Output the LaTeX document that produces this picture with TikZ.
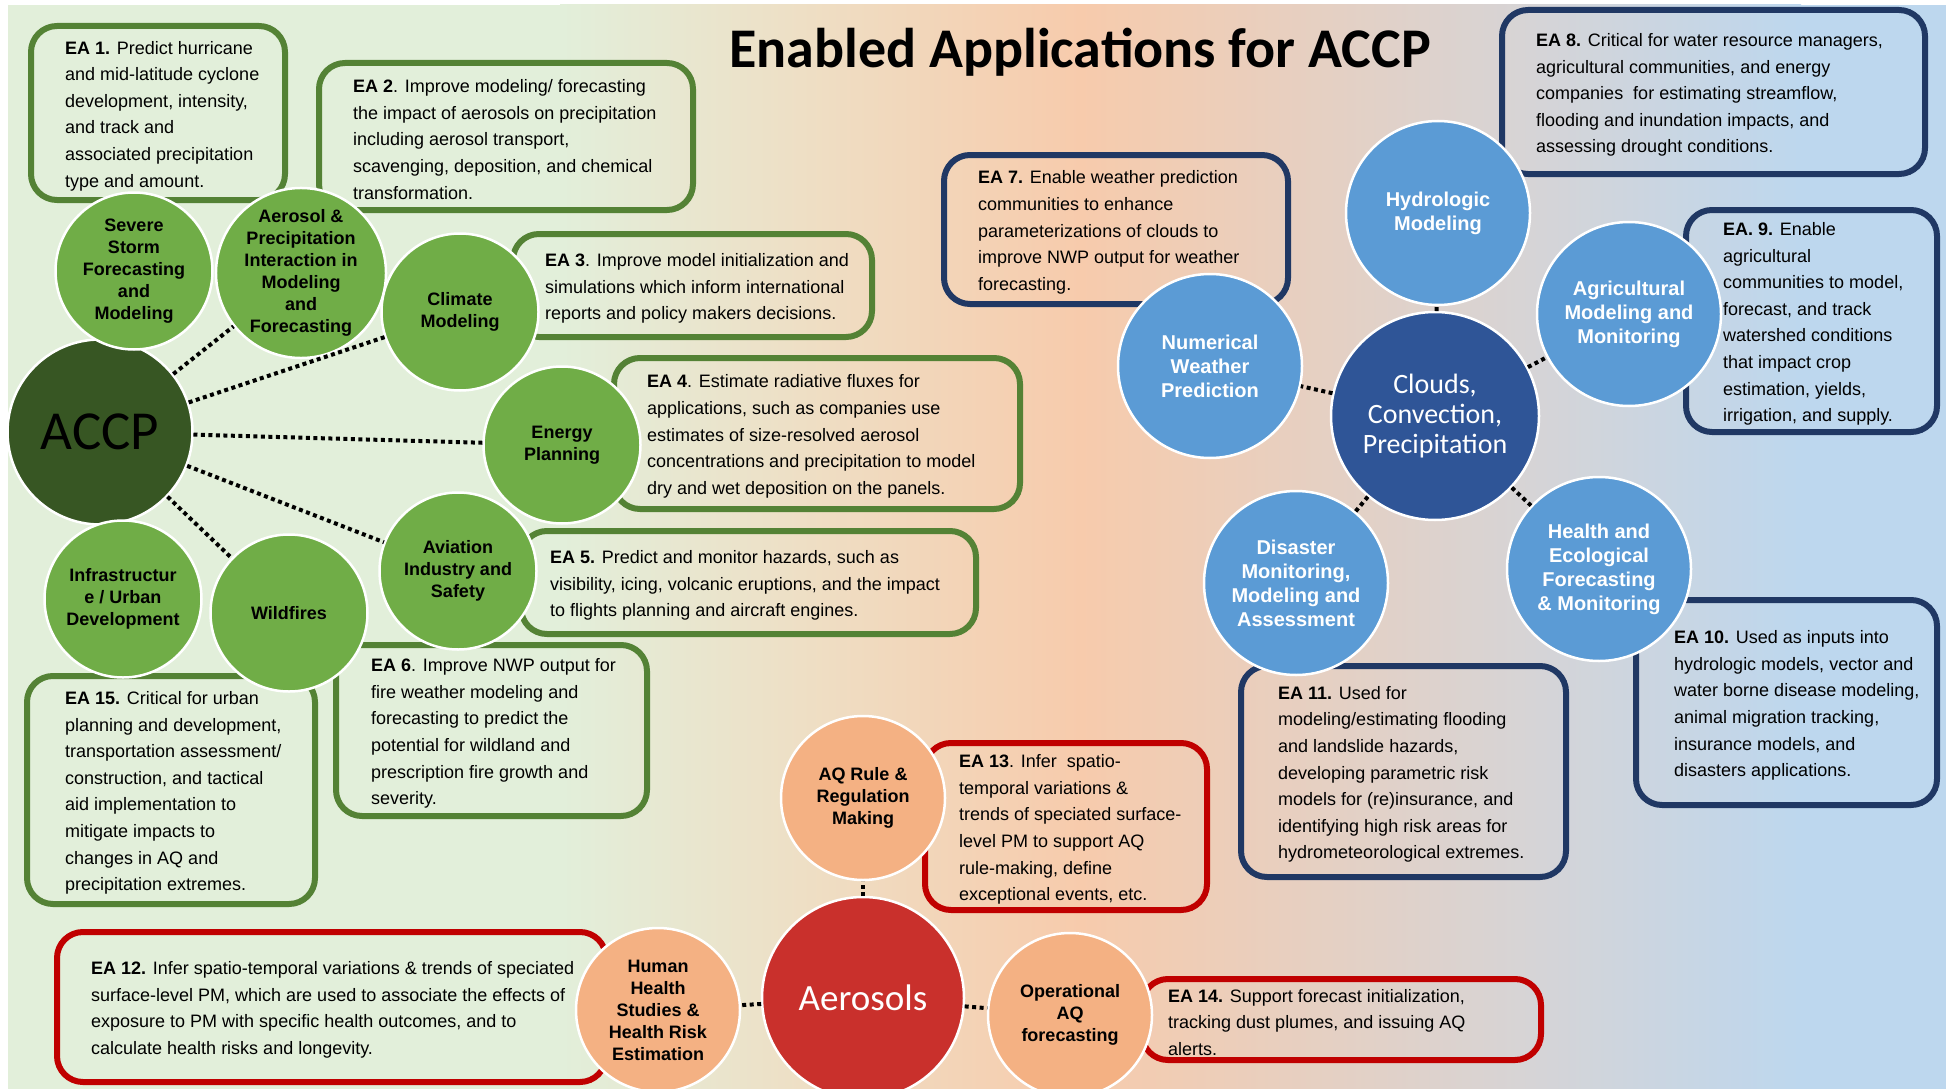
\documentclass[tikz,border=0pt]{standalone}
\usepackage{fontspec}
\setmainfont{Liberation Sans}
\newfontfamily\calibri{Carlito}
\definecolor{bgA}{HTML}{E2EFDA}
\definecolor{bgB}{HTML}{E4ECD7}
\definecolor{bgC}{HTML}{EEDFC5}
\definecolor{bgD}{HTML}{F7CBAC}
\definecolor{bgE}{HTML}{D6D4D6}
\definecolor{bgF}{HTML}{BDD7EE}
\definecolor{leafgreen}{HTML}{70AD47}
\definecolor{darkleaf}{HTML}{375623}
\definecolor{linegreen}{HTML}{548235}
\definecolor{skyblue}{HTML}{5B9BD5}
\definecolor{deepblue}{HTML}{2F5597}
\definecolor{lineblue}{HTML}{203864}
\definecolor{peach}{HTML}{F4B183}
\definecolor{brick}{HTML}{C9302C}
\definecolor{linered}{HTML}{C00000}

\begin{document}
\begin{tikzpicture}[x = 1pt, y = -1pt,
    circ/.style = {circle, draw = white, line width = 2.5pt, inner sep = 0pt, outer sep = 1pt, align = center, font = \bfseries\fontsize{18}{22}\selectfont},
    greencirc/.style = {circ, fill = leafgreen, minimum size = 157pt},
    bluecirc/.style = {circ, fill = skyblue, text = white, minimum size = 184pt, font = \bfseries\fontsize{20}{24}\selectfont},
    peachcirc/.style = {circ, fill = peach, minimum size = 164pt},
    eabox/.style = {draw = #1, line width = 6pt, rounded corners = 26pt, inner sep = 0pt},
    eatext/.style = {anchor = west, align = left, inner sep = 0pt, xshift = 2pt, yshift = -3pt, font = \fontsize{18}{26.6}\selectfont},
    link/.style = {line width = 4pt, dash pattern = on 4pt off 3.5pt}]
      \clip (0, 0) rectangle (1951, 1089);
      \fill [white] (0, 0) rectangle (1951, 1089);
      \fill [bgA] (8, 5) rectangle (561, 1089);
      \shade [left color = bgA, right color = bgB] (560, 5) rectangle (601, 1089);
      \shade [left color = bgB, right color = bgC] (600, 5) rectangle (801, 1089);
      \shade [left color = bgC, right color = bgD] (800, 5) rectangle (1081, 1089);
      \shade [left color = bgD, right color = bgE] (1080, 5) rectangle (1531, 1089);
      \shade [left color = bgE, right color = bgF] (1530, 5) rectangle (1801, 1089);
      \fill [bgF] (1800, 5) rectangle (1946, 1089);

      \node [font = \calibri\bfseries\fontsize{56}{60}\selectfont, anchor = base] (title) at (1080, 68) {Enabled Applications for ACCP};

      \node [eabox = linegreen, minimum width = 254pt, minimum height = 174pt] (ea1) at (158, 113) {};
      \node [eabox = linegreen, minimum width = 374pt, minimum height = 147pt] (ea2) at (506, 136.5) {};
      \node [eabox = linegreen, minimum width = 359pt, minimum height = 103pt] (ea3) at (692.5, 285.5) {};
      \node [eabox = linegreen, minimum width = 406pt, minimum height = 151pt] (ea4) at (817, 433.5) {};
      \node [eabox = linegreen, minimum width = 455pt, minimum height = 103pt] (ea5) at (748.5, 582.5) {};
      \node [eabox = linegreen, minimum width = 311pt, minimum height = 171pt] (ea6) at (491.5, 730.5) {};
      \node [eabox = linegreen, minimum width = 288pt, minimum height = 228pt] (ea15) at (171, 790) {};
      \node [eabox = lineblue, minimum width = 344pt, minimum height = 149pt] (ea7) at (1116, 229.5) {};
      \node [eabox = lineblue, minimum width = 423pt, minimum height = 164pt] (ea8) at (1713.5, 92) {};
      \node [eabox = lineblue, minimum width = 251pt, minimum height = 222pt] (ea9) at (1811.5, 321) {};
      \node [eabox = lineblue, minimum width = 301pt, minimum height = 205pt] (ea10) at (1786.5, 702.5) {};
      \node [eabox = lineblue, minimum width = 325pt, minimum height = 211pt] (ea11) at (1403.5, 771.5) {};
      \node [eabox = linered, minimum width = 549pt, minimum height = 150pt] (ea12) at (331.5, 1007) {};
      \node [eabox = linered, minimum width = 282pt, minimum height = 167pt] (ea13) at (1066, 826.5) {};
      \node [eabox = linered, minimum width = 399pt, minimum height = 81pt] (ea14) at (1341.5, 1019.5) {};

      \node [eatext] (ea1text) at ([xshift = 35pt] ea1.west) {\textbf{EA 1.} Predict hurricane\\and mid-latitude cyclone\\development, intensity,\\and track and\\associated precipitation\\type and amount.};
      \node [eatext] (ea2text) at ([xshift = 35pt] ea2.west) {\textbf{EA 2}. Improve modeling/ forecasting\\the impact of aerosols on precipitation\\including aerosol transport,\\scavenging, deposition, and chemical\\transformation.};
      \node [eatext] (ea3text) at ([xshift = 33pt] ea3.west) {\textbf{EA 3}. Improve model initialization and\\simulations which inform international\\reports and policy makers decisions.};
      \node [eatext] (ea4text) at ([xshift = 34pt] ea4.west) {\textbf{EA 4}. Estimate radiative fluxes for\\applications, such as companies use\\estimates of size-resolved aerosol\\concentrations and precipitation to model\\dry and wet deposition on the panels.};
      \node [eatext] (ea5text) at ([xshift = 30pt] ea5.west) {\textbf{EA 5.} Predict and monitor hazards, such as\\visibility, icing, volcanic eruptions, and the impact\\to flights planning and aircraft engines.};
      \node [eatext] (ea6text) at ([xshift = 36pt] ea6.west) {\textbf{EA 6}. Improve NWP output for\\fire weather modeling and\\forecasting to predict the\\potential for wildland and\\prescription fire growth and\\severity.};
      \node [eatext] (ea15text) at ([xshift = 39pt] ea15.west) {\textbf{EA 15.} Critical for urban\\planning and development,\\transportation assessment/\\construction, and tactical\\aid implementation to\\mitigate impacts to\\changes in AQ and\\precipitation extremes.};
      \node [eatext] (ea7text) at ([xshift = 35pt] ea7.west) {\textbf{EA 7.} Enable weather prediction\\communities to enhance\\parameterizations of clouds to\\improve NWP output for weather\\forecasting.};
      \node [eatext] (ea8text) at ([xshift = 35pt] ea8.west) {\textbf{EA 8.} Critical for water resource managers,\\agricultural communities, and energy\\companies\ \ for estimating streamflow,\\flooding and inundation impacts, and\\assessing drought conditions.};
      \node [eatext] (ea9text) at ([xshift = 38pt] ea9.west) {\textbf{EA. 9.} Enable\\agricultural\\communities to model,\\forecast, and track\\watershed conditions\\that impact crop\\estimation, yields,\\irrigation, and supply.};
      \node [eatext] (ea10text) at ([xshift = 39pt] ea10.west) {\textbf{EA 10.} Used as inputs into\\hydrologic models, vector and\\water borne disease modeling,\\animal migration tracking,\\insurance models, and\\disasters applications.};
      \node [eatext] (ea11text) at ([xshift = 38pt] ea11.west) {\textbf{EA 11.} Used for\\modeling/estimating flooding\\and landslide hazards,\\developing parametric risk\\models for (re)insurance, and\\identifying high risk areas for\\hydrometeorological extremes.};
      \node [eatext] (ea12text) at ([xshift = 35pt] ea12.west) {\textbf{EA 12.} Infer spatio-temporal variations \& trends of speciated\\surface-level PM, which are used to associate the effects of\\exposure to PM with specific health outcomes, and to\\calculate health risks and longevity.};
      \node [eatext] (ea13text) at ([xshift = 35pt] ea13.west) {\textbf{EA 13}. Infer\ \ spatio-\\temporal variations \&\\trends of speciated surface-\\level PM to support AQ\\rule-making, define\\exceptional events, etc.};
      \node [eatext] (ea14text) at ([xshift = 27pt] ea14.west) {\textbf{EA 14.} Support forecast initialization,\\tracking dust plumes, and issuing AQ\\alerts.};

      \node [circ, fill = darkleaf, minimum size = 185pt, font = \calibri\fontsize{55}{60}\selectfont] (accp) at (100, 432) {ACCP};
      \node [greencirc] (storm) at (134, 271) {Severe\\Storm\\Forecasting\\and\\Modeling};
      \node [greencirc] (aeroprecip) at (301, 273) {Aerosol \&\\Precipitation\\Interaction in\\Modeling\\and\\Forecasting};
      \node [greencirc] (climate) at (460, 312) {Climate\\Modeling};
      \node [greencirc] (energy) at (562, 445) {Energy\\Planning};
      \node [greencirc] (aviation) at (458, 571) {Aviation\\Industry and\\Safety};
      \node [greencirc] (infra) at (123, 599) {Infrastructur\\e / Urban\\Development};
      \node [greencirc] (fires) at (289, 613) {Wildfires};

      \node [circ, fill = deepblue, text = white, minimum size = 208pt, font = \calibri\fontsize{28}{30}\selectfont] (clouds) at (1435, 416) {Clouds,\\Convection,\\Precipitation};
      \node [bluecirc] (hydro) at (1438, 213) {Hydrologic\\Modeling};
      \node [bluecirc] (nwp) at (1210, 366) {Numerical\\Weather\\Prediction};
      \node [bluecirc] (agri) at (1629, 314) {Agricultural\\Modeling and\\Monitoring};
      \node [bluecirc] (disaster) at (1296, 583) {Disaster\\Monitoring,\\Modeling and\\Assessment};
      \node [bluecirc] (ecology) at (1599, 569) {Health and\\Ecological\\Forecasting\\\& Monitoring};

      \node [circ, fill = brick, text = white, minimum size = 202pt, font = \calibri\fontsize{37}{40}\selectfont] (aerosols) at (863, 998) {Aerosols};
      \node [peachcirc] (aqrule) at (863, 798) {AQ Rule \&\\Regulation\\Making};
      \node [peachcirc] (humanhealth) at (658, 1010) {Human\\Health\\Studies \&\\Health Risk\\Estimation};
      \node [peachcirc] (opaq) at (1070, 1015) {Operational\\AQ\\forecasting};

      \foreach \n in {aeroprecip, climate, energy, aviation, fires}
        \draw [link] (accp) -- (\n);
      \foreach \n in {hydro, nwp, agri, disaster, ecology}
        \draw [link] (clouds) -- (\n);
      \foreach \n in {aqrule, humanhealth, opaq}
        \draw [link] (aerosols) -- (\n);
    \end{tikzpicture}
\end{document}
